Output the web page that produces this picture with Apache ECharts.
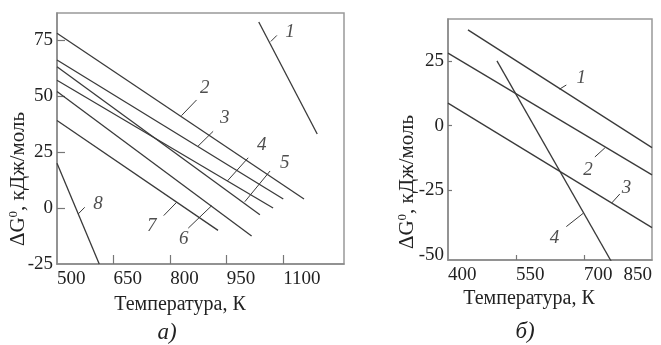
<!DOCTYPE html>
<html>
<head>
<meta charset="utf-8">
<script src="https://cdn.jsdelivr.net/npm/echarts@6/dist/echarts.min.js"></script>
<style>html,body{margin:0;padding:0;background:#fff}#c{width:661px;height:345px}</style>
</head>
<body>
<div id="c"></div>
<script>
// ---- Panel a) data: [T (K), ΔG0 (kJ/mol)] ----
const aLine1 = [[1035, 83], [1190, 33]];
const aLine2 = [[500, 78], [1155, 4]];
const aLine3 = [[500, 66], [1100, 4]];
const aLine4 = [[500, 57], [1073, 0]];
const aLine5 = [[500, 63], [1038, -3]];
const aLine6 = [[500, 52], [1016, -12.5]];
const aLine7 = [[500, 39], [927, -10]];
const aLine8 = [[500, 20], [612, -25]];
const aXTicks = [500, 650, 800, 950, 1100];
const aYTicks = [-25, 0, 25, 50, 75];
// leader lines and curve numbers (data coordinates)
const aLeaders = [
  [[1067, 74.3], [1083, 77]], [[830, 41.2], [870, 48.2]], [[874, 27.6], [914, 34.2]],
  [[952, 12.1], [1007, 22.4]], [[998, 2.8], [1065, 16.5]], [[848, -9], [910, 1]],
  [[783, -3.4], [817, 2.5]], [[556, -2.7], [573.5, 0.3]]
];
const aNumbers = [[1118, 78.3, '1'], [892, 53.4, '2'], [945, 40.1, '3'], [1043, 28.3, '4'],
  [1104, 19.9, '5'], [836, -14, '6'], [751, -8.1, '7'], [609, 1.8, '8']];

// ---- Panel б) data ----
const bLine1 = [[444, 37], [850, -8.5]];
const bLine2 = [[400, 28], [850, -19]];
const bLine3 = [[400, 8.7], [850, -39.4]];
const bLine4 = [[508, 25], [762, -53]];
const bXTicks = [400, 550, 700, 850];
const bYTicks = [-50, -25, 0, 25];
const bLeaders = [
  [[646, 14.1], [661, 15.7]], [[746, -8.6], [724, -12.1]],
  [[761, -29.9], [779, -26.4]], [[698, -33.9], [661, -39]]
];
const bNumbers = [[694, 18.3, '1'], [709, -17.1, '2'], [793.5, -24.2, '3'], [635, -43.5, '4']];

const FONT = "'Liberation Serif', 'Times New Roman', serif";
const LINE = '#3a3a3a';
const TXT = '#222';

function curve(data, idx, w) {
  return { type: 'line', xAxisIndex: idx, yAxisIndex: idx, data: data, symbol: 'none',
    silent: true, animation: false, lineStyle: { color: LINE, width: w || 1.3 } };
}
function numbers(data, idx) {
  return { type: 'scatter', xAxisIndex: idx, yAxisIndex: idx, data: data, symbolSize: 2,
    silent: true, animation: false, itemStyle: { color: 'rgba(0,0,0,0)' },
    label: { show: true, position: 'inside', formatter: p => p.value[2],
      fontFamily: FONT, fontStyle: 'italic', fontSize: 19, color: TXT } };
}
function xAx(idx, min, max, ticks, tickLen) {
  return { type: 'value', gridIndex: idx, min: min, max: max,
    axisLine: { show: true, onZero: false, lineStyle: { color: '#888', width: 1.5 } },
    axisTick: { show: true, inside: true, length: tickLen, customValues: ticks.slice(1, idx === 1 ? -1 : undefined),
      lineStyle: { color: '#777', width: 1.2 } },
    axisLabel: { customValues: ticks, align: 'left', margin: 6, fontFamily: FONT, fontSize: 19, color: TXT,
      formatter: v => String(v), alignMaxLabel: idx === 1 ? 'right' : null },
    splitLine: { show: false } };
}
function yAx(idx, min, max, ticks, tickLen) {
  return { type: 'value', gridIndex: idx, min: min, max: max,
    axisLine: { show: true, onZero: false, lineStyle: { color: '#888', width: 1.5 } },
    axisTick: { show: true, inside: true, length: tickLen, customValues: ticks.slice(1),
      lineStyle: { color: '#777', width: 1.2 } },
    axisLabel: { customValues: ticks, margin: 4, fontFamily: FONT, fontSize: 19, color: TXT,
      formatter: v => String(v) },
    splitLine: { show: false } };
}

const series = [];
[aLine1, aLine2, aLine3, aLine4, aLine5, aLine6, aLine7, aLine8].forEach(d => series.push(curve(d, 0)));
aLeaders.forEach(d => series.push(curve(d, 0, 1)));
series.push(numbers(aNumbers, 0));
[bLine1, bLine2, bLine3, bLine4].forEach(d => series.push(curve(d, 1)));
bLeaders.forEach(d => series.push(curve(d, 1, 1)));
series.push(numbers(bNumbers, 1));

const yTitle = { text: '{a|ΔG}{s|0}{a|, кДж/моль}',
  rich: { a: { fontFamily: FONT, fontSize: 21, fill: TXT },
          s: { fontFamily: FONT, fontSize: 13, fill: TXT, verticalAlign: 'top', padding: [0, 0, 9, 0] } },
  align: 'center', verticalAlign: 'middle' };

const chart = echarts.init(document.getElementById('c'), null, { renderer: 'canvas' });
chart.setOption({
  animation: false,
  backgroundColor: '#fff',
  grid: [
    { left: 57, top: 13, width: 287, height: 251, show: true, borderColor: '#999', borderWidth: 1.5 },
    { left: 448, top: 19, width: 204, height: 241, show: true, borderColor: '#999', borderWidth: 1.5 }
  ],
  xAxis: [xAx(0, 500, 1261, aXTicks, 9), xAx(1, 400, 850, bXTicks, 5)],
  yAxis: [yAx(0, -25, 87, aYTicks, 8), yAx(1, -51.9, 41.2, bYTicks, 4)],
  series: series,
  graphic: [
    { type: 'text', x: 18, y: 179, rotation: Math.PI / 2, style: Object.assign({}, yTitle) },
    { type: 'text', x: 407, y: 182, rotation: Math.PI / 2, style: Object.assign({}, yTitle) },
    { type: 'text', x: 180, y: 305, style: { text: 'Температура, К', fontFamily: FONT, fontSize: 20, fill: TXT, align: 'center', verticalAlign: 'middle' } },
    { type: 'text', x: 529, y: 299, style: { text: 'Температура, К', fontFamily: FONT, fontSize: 20, fill: TXT, align: 'center', verticalAlign: 'middle' } },
    { type: 'text', x: 167, y: 333, style: { text: 'а)', fontFamily: FONT, fontStyle: 'italic', fontSize: 23, fill: TXT, align: 'center', verticalAlign: 'middle' } },
    { type: 'text', x: 525, y: 332, style: { text: 'б)', fontFamily: FONT, fontStyle: 'italic', fontSize: 23, fill: TXT, align: 'center', verticalAlign: 'middle' } }
  ]
});
</script>
</body>
</html>
